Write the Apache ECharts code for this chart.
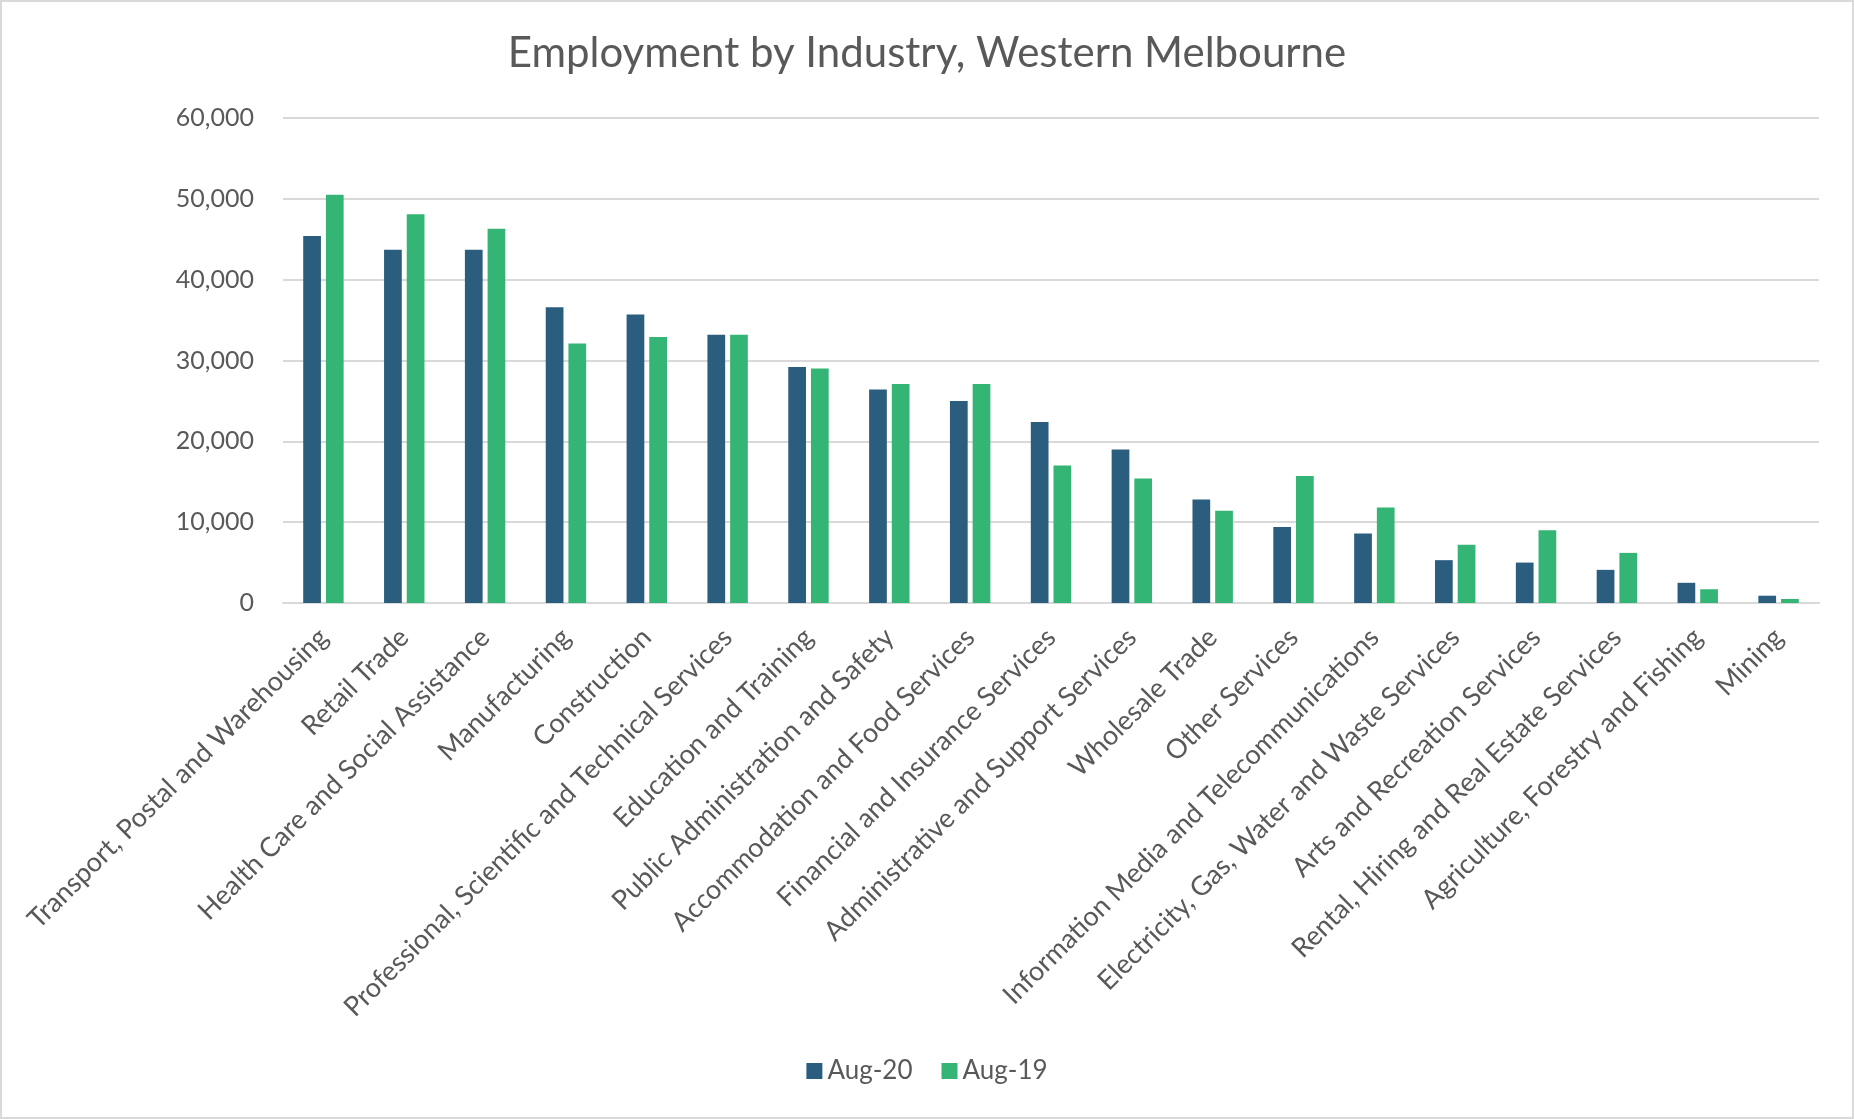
<!DOCTYPE html>
<html>
<head>
<meta charset="utf-8">
<script src="https://cdn.jsdelivr.net/npm/echarts@6/dist/echarts.min.js"></script>
<style>
  html, body { margin: 0; padding: 0; background: #fff; }
  #chart { position: absolute; left: 0; top: 0; width: 1854px; height: 1119px; }
  #frame { position: absolute; left: 0; top: 0; width: 1854px; height: 1119px; box-sizing: border-box; border: 2px solid #d9d9d9; pointer-events: none; }
</style>
</head>
<body>
<div id="chart"></div>
<div id="frame"></div>
<script>
const categories = [
  'Transport, Postal and Warehousing',
  'Retail Trade',
  'Health Care and Social Assistance',
  'Manufacturing',
  'Construction',
  'Professional, Scientific and Technical Services',
  'Education and Training',
  'Public Administration and Safety',
  'Accommodation and Food Services',
  'Financial and Insurance Services',
  'Administrative and Support Services',
  'Wholesale Trade',
  'Other Services',
  'Information Media and Telecommunications',
  'Electricity, Gas, Water and Waste Services',
  'Arts and Recreation Services',
  'Rental, Hiring and Real Estate Services',
  'Agriculture, Forestry and Fishing',
  'Mining'
];
const aug20 = [45400, 43700, 43700, 36600, 35700, 33200, 29200, 26400, 25000, 22400, 19000, 12800, 9400, 8600, 5300, 5000, 4100, 2500, 900];
const aug19 = [50500, 48100, 46300, 32100, 32900, 33200, 29000, 27100, 27100, 17000, 15400, 11400, 15700, 11800, 7200, 9000, 6200, 1700, 500];
const yTicks = [0, 10000, 20000, 30000, 40000, 50000, 60000];

const FONT = 'Lato';
const TXT = '#595959';
const chart = echarts.init(document.getElementById('chart'));
chart.setOption({
  animation: false,
  backgroundColor: '#ffffff',
  title: {
    text: 'Employment by Industry, Western Melbourne',
    left: 'center',
    top: 27,
    textStyle: { fontFamily: FONT, fontSize: 42, fontWeight: 'normal', color: TXT }
  },
  legend: {
    data: ['Aug-20', 'Aug-19'],
    left: 'center',
    top: 1053,
    itemWidth: 16,
    itemHeight: 16,
    itemGap: 29,
    icon: 'rect',
    textStyle: { fontFamily: FONT, fontSize: 26, color: TXT }
  },
  grid: {
    left: 283, right: 35, top: 118, bottom: 516,
    containLabel: false,
    outerBoundsMode: 'none'
  },
  xAxis: {
    type: 'category',
    data: categories,
    axisLine: { show: true, lineStyle: { color: '#d9d9d9', width: 2 } },
    axisTick: { show: false },
    axisLabel: {
      interval: 0,
      rotate: 45,
      align: 'right',
      verticalAlign: 'middle',
      margin: 30,
      fontFamily: FONT,
      fontSize: 27,
      color: TXT,
      hideOverlap: false
    }
  },
  yAxis: {
    type: 'value',
    min: yTicks[0],
    max: yTicks[yTicks.length - 1],
    interval: 10000,
    axisLine: { show: false },
    axisTick: { show: false },
    splitLine: { lineStyle: { color: '#d9d9d9', width: 2 } },
    axisLabel: {
      margin: 29,
      fontFamily: FONT,
      fontSize: 25,
      color: TXT,
      formatter: v => v.toLocaleString('en-US')
    }
  },
  series: [
    {
      name: 'Aug-20', type: 'bar', data: aug20,
      barGap: '28%', barCategoryGap: '50%',
      itemStyle: { color: '#2b5e7e' }
    },
    {
      name: 'Aug-19', type: 'bar', data: aug19,
      barGap: '28%', barCategoryGap: '50%',
      itemStyle: { color: '#34b575' }
    }
  ]
});
</script>
</body>
</html>
